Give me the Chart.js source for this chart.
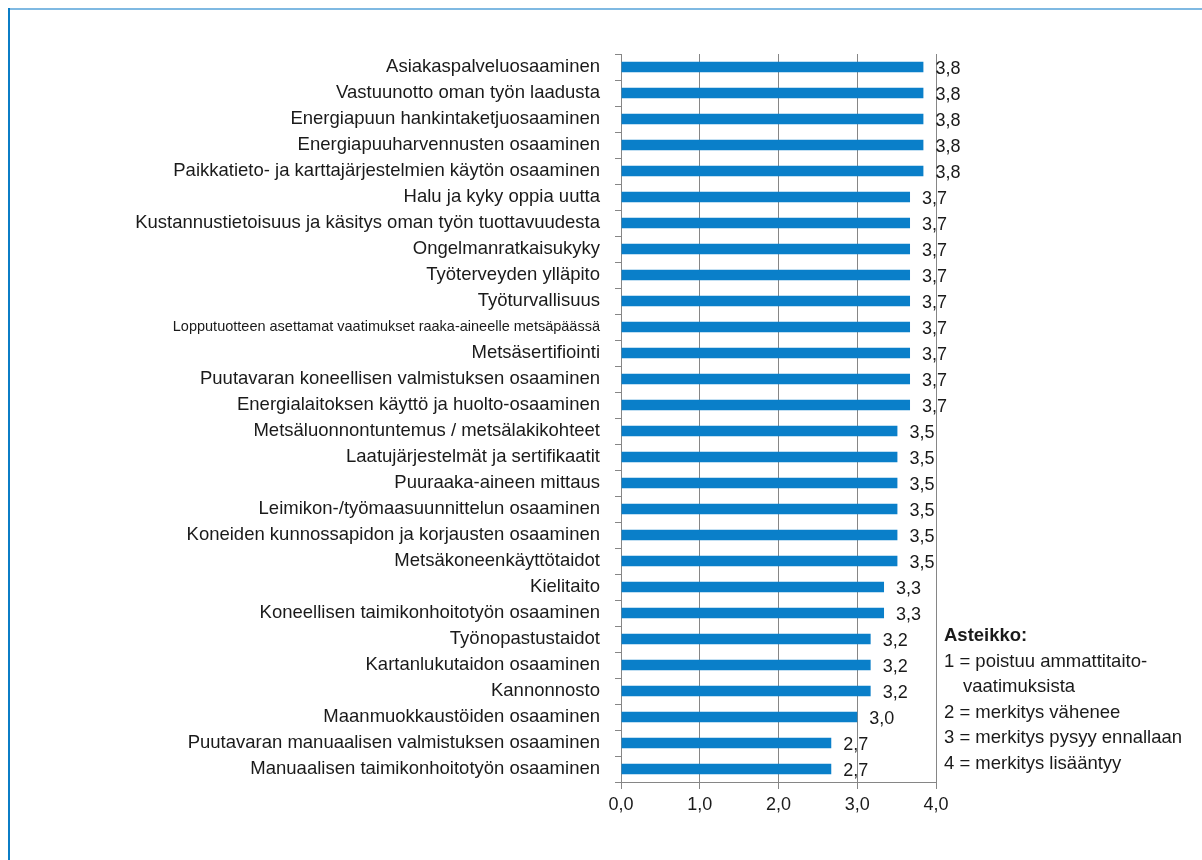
<!DOCTYPE html>
<html>
<head>
<meta charset="utf-8">
<script src="https://cdn.jsdelivr.net/npm/chart.js@4"></script>
<style>
  html, body { margin: 0; padding: 0; background: #fff; }
  #wrap { position: relative; width: 1202px; height: 860px; overflow: hidden; }
  #chart { position: absolute; left: 0; top: 0; }
  .frame-top { position: absolute; left: 8px; top: 8px; width: 1194px; height: 2px; background: #7fb9e2; }
  .frame-left { position: absolute; left: 8px; top: 8px; width: 2px; height: 852px; background: #0b7dc6; }
  #scale {
    position: absolute; left: 944px; top: 622px;
    font-family: 'Liberation Sans', Arial, sans-serif; font-size: 18.5px; color: #1a1a1a;
    line-height: 25.6px; white-space: nowrap;
  }
  #scale b { font-weight: bold; }
  #scale .ind { padding-left: 19px; }
</style>
</head>
<body>
<div id="wrap">
  <canvas id="chart" width="1202" height="860"></canvas>
  <div class="frame-top"></div>
  <div class="frame-left"></div>
  <div id="scale">
    <div><b>Asteikko:</b></div>
    <div>1 = poistuu ammattitaito-</div>
    <div class="ind">vaatimuksista</div>
    <div>2 = merkitys vähenee</div>
    <div>3 = merkitys pysyy ennallaan</div>
    <div>4 = merkitys lisääntyy</div>
  </div>
</div>
<script>
const categories = [
  'Asiakaspalveluosaaminen',
  'Vastuunotto oman työn laadusta',
  'Energiapuun hankintaketjuosaaminen',
  'Energiapuuharvennusten osaaminen',
  'Paikkatieto- ja karttajärjestelmien käytön osaaminen',
  'Halu ja kyky oppia uutta',
  'Kustannustietoisuus ja käsitys oman työn tuottavuudesta',
  'Ongelmanratkaisukyky',
  'Työterveyden ylläpito',
  'Työturvallisuus',
  'Lopputuotteen asettamat vaatimukset raaka-aineelle metsäpäässä',
  'Metsäsertifiointi',
  'Puutavaran koneellisen valmistuksen osaaminen',
  'Energialaitoksen käyttö ja huolto-osaaminen',
  'Metsäluonnontuntemus / metsälakikohteet',
  'Laatujärjestelmät ja sertifikaatit',
  'Puuraaka-aineen mittaus',
  'Leimikon-/työmaasuunnittelun osaaminen',
  'Koneiden kunnossapidon ja korjausten osaaminen',
  'Metsäkoneenkäyttötaidot',
  'Kielitaito',
  'Koneellisen taimikonhoitotyön osaaminen',
  'Työnopastustaidot',
  'Kartanlukutaidon osaaminen',
  'Kannonnosto',
  'Maanmuokkaustöiden osaaminen',
  'Puutavaran manuaalisen valmistuksen osaaminen',
  'Manuaalisen taimikonhoitotyön osaaminen'
];
const values = [
  3.84, 3.84, 3.84, 3.84, 3.84,
  3.67, 3.67, 3.67, 3.67, 3.67, 3.67, 3.67, 3.67, 3.67,
  3.51, 3.51, 3.51, 3.51, 3.51, 3.51,
  3.34, 3.34,
  3.17, 3.17, 3.17,
  3.0,
  2.67, 2.67
];
const xTicks = [0, 1, 2, 3, 4];

const fmt = v => v.toFixed(1).replace('.', ',');
const FONT = "'Liberation Sans', Arial, sans-serif";
const GREY = '#868686';

// the longest label is squeezed in the original, so it gets a smaller size
const labelSize = ctx => (categories[ctx.index] || '').length > 56 ? 14.5 : 18.5;

const valueLabels = {
  id: 'valueLabels',
  afterDatasetsDraw(chart) {
    const ctx = chart.ctx;
    const meta = chart.getDatasetMeta(0);
    ctx.save();
    ctx.font = '18px ' + FONT;
    ctx.fillStyle = '#1a1a1a';
    ctx.textAlign = 'left';
    ctx.textBaseline = 'middle';
    meta.data.forEach((bar, i) => {
      ctx.fillText(fmt(values[i]), bar.x + 12, bar.y + 2);
    });
    ctx.restore();
  }
};

new Chart(document.getElementById('chart'), {
  type: 'bar',
  data: {
    labels: categories,
    datasets: [{
      data: values,
      backgroundColor: '#0a7fc9',
      borderWidth: 0,
      barPercentage: 0.8,
      categoryPercentage: 0.5
    }]
  },
  options: {
    indexAxis: 'y',
    responsive: false,
    animation: false,
    layout: { padding: { left: 0, right: 266, top: 54, bottom: 38 } },
    plugins: { legend: { display: false }, tooltip: { enabled: false } },
    scales: {
      y: {
        afterFit(scale) { scale.width = 621; },
        grid: { drawOnChartArea: false, drawTicks: true, tickLength: 6, color: GREY, offset: true },
        border: { display: true, color: GREY, width: 1 },
        ticks: {
          color: '#1a1a1a', padding: 15, autoSkip: false,
          font: ctx => ({ family: FONT, size: labelSize(ctx) })
        }
      },
      x: {
        min: 0,
        max: 4,
        afterFit(scale) { scale.height = 40; },
        afterBuildTicks(scale) { scale.ticks = xTicks.map(v => ({ value: v })); },
        grid: { color: GREY, tickLength: 7, drawTicks: true },
        border: { display: true, color: GREY, width: 1 },
        ticks: {
          color: '#1a1a1a', padding: 5,
          font: { family: FONT, size: 18 },
          callback: v => fmt(v)
        }
      }
    }
  },
  plugins: [valueLabels]
});
</script>
</body>
</html>
